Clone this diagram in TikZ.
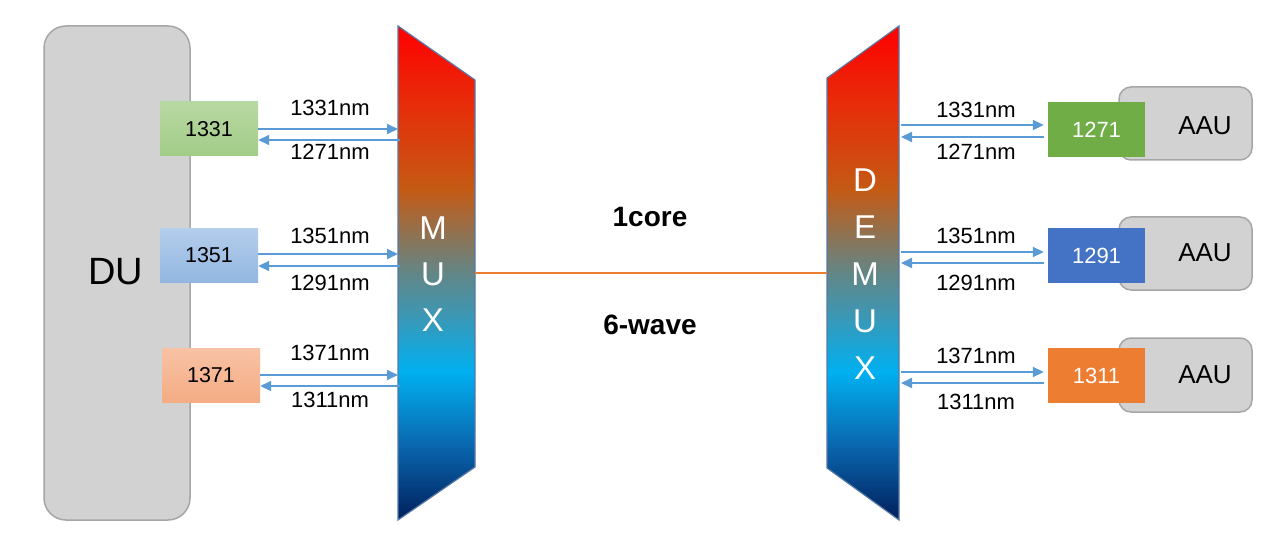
\documentclass[tikz,border=0pt]{standalone}
\usepackage{fontspec}
\setmainfont{Liberation Sans}
\usetikzlibrary{arrows.meta}
\definecolor{gnavy}{HTML}{001F5C}
\definecolor{gblue}{HTML}{0A66AE}
\definecolor{gcyan}{HTML}{00B0F0}
\definecolor{gteal}{HTML}{3A98B6}
\definecolor{ggray}{HTML}{638686}
\definecolor{gbrown}{HTML}{C45A14}
\definecolor{gred1}{HTML}{E5300A}
\definecolor{gred}{HTML}{FF0000}
\pgfdeclareverticalshading{muxshade}{100bp}{color(0bp)=(gnavy); color(25bp)=(gnavy); color(32.5bp)=(gblue); color(40bp)=(gcyan); color(45.5bp)=(gteal); color(50bp)=(ggray); color(58.5bp)=(gbrown); color(66.5bp)=(gred1); color(75bp)=(gred); color(100bp)=(gred)}
\definecolor{arrblue}{HTML}{5B9BD5}
\definecolor{fiber}{HTML}{ED7D31}
\definecolor{dugray}{HTML}{D2D2D2}
\definecolor{duedge}{HTML}{A6A6A6}
\definecolor{trapedge}{HTML}{5878A4}
\tikzset{
  arr/.style={draw=arrblue, line width=1.8pt, -{Triangle[length=11pt,width=10pt]}},
  wl/.style={font=\fontsize{22}{26}\selectfont, inner sep=0pt},
  lbox/.style={minimum width=98pt, minimum height=54pt, inner sep=0pt, font=\fontsize{21.5}{25}\selectfont},
  rbox/.style={minimum width=97pt, minimum height=55pt, inner sep=0pt, font=\fontsize{22}{26}\selectfont, text=white},
  aau/.style={draw=duedge, line width=1.5pt, fill=dugray, rounded corners=12pt, minimum width=133pt, minimum height=73pt, inner sep=0pt},
  trap/.style={draw=trapedge, line width=1.2pt, shading=muxshade},
  vlet/.style={text=white, align=center, font=\fontsize{33}{46}\selectfont, inner sep=0pt},
  bigl/.style={font=\bfseries\fontsize{28}{32}\selectfont, inner sep=0pt},
}
\begin{document}
\begin{tikzpicture}[x=1pt,y=-1pt]
\useasboundingbox (0,0) rectangle (1282,556);
% DU
\node[draw=duedge, line width=1.5pt, fill=dugray, rounded corners=22pt, minimum width=146pt, minimum height=494pt, inner sep=0pt] (du) at (117,273) {};
\node[font=\fontsize{38}{42}\selectfont, inner sep=0pt] (dul) at (116,272) {DU};
% left boxes
\node[lbox, top color={rgb,255:red,184;green,216;blue,162}, bottom color={rgb,255:red,162;green,204;blue,136}] (b1) at (209,129) {1331};
\node[lbox, top color={rgb,255:red,180;green,206;blue,236}, bottom color={rgb,255:red,146;green,182;blue,224}] (b2) at (209,255.5) {1351};
\node[lbox, top color={rgb,255:red,248;green,194;blue,164}, bottom color={rgb,255:red,244;green,172;blue,132}] (b3) at (211,375.5) {1371};
% MUX
\path[trap] (398,26) -- (475,80) -- (475,467) -- (398,520) -- cycle;
\node[vlet] (muxl) at (433,274) {M\\U\\X};
% DEMUX
\path[trap] (899,26) -- (899,520) -- (827,468) -- (827,78) -- cycle;
\node[vlet, font=\fontsize{33}{47}\selectfont] (demuxl) at (865,274) {D\\E\\M\\U\\X};
% fibre
\coordinate (muxR) at (475,273);
\coordinate (demuxL) at (827,273);
\draw[fiber, line width=2pt] (muxR) -- (demuxL);
\node[bigl] (core) at (650,217) {1core};
\node[bigl] (wave) at (650,325) {6-wave};
% MUX edge points
\coordinate (m1a) at (398,129); \coordinate (m1b) at (400,140);
\coordinate (m2a) at (398,254); \coordinate (m2b) at (400,266);
\coordinate (m3a) at (398,375); \coordinate (m3b) at (400,386);
\draw[arr] (b1.east |- m1a) -- (m1a);
\draw[arr] (m1b) -- (b1.east |- m1b);
\draw[arr] (b2.east |- m2a) -- (m2a);
\draw[arr] (m2b) -- (b2.east |- m2b);
\draw[arr] (b3.east |- m3a) -- (m3a);
\draw[arr] (m3b) -- (b3.east |- m3b);
\node[wl] (l1a) at (330,108) {1331nm};
\node[wl] (l1b) at (330,152) {1271nm};
\node[wl] (l2a) at (330,236) {1351nm};
\node[wl] (l2b) at (330,283) {1291nm};
\node[wl] (l3a) at (330,353) {1371nm};
\node[wl] (l3b) at (330,400) {1311nm};
% AAU
\node[aau] (a1) at (1185.5,123.5) {};
\node[aau] (a2) at (1185.5,253.5) {};
\node[aau, minimum height=74pt] (a3) at (1185.5,375) {};
\node[font=\fontsize{26}{30}\selectfont, inner sep=0pt] (a1l) at (1205,126) {AAU};
\node[font=\fontsize{26}{30}\selectfont, inner sep=0pt] (a2l) at (1205,253) {AAU};
\node[font=\fontsize{26}{30}\selectfont, inner sep=0pt] (a3l) at (1205,375) {AAU};
% right boxes
\node[rbox, fill={rgb,255:red,112;green,173;blue,71}] (r1) at (1096.5,129.5) {1271};
\node[rbox, fill={rgb,255:red,68;green,114;blue,196}] (r2) at (1096.5,255.5) {1291};
\node[rbox, fill={rgb,255:red,237;green,125;blue,49}] (r3) at (1096.5,375.5) {1311};
% DEMUX edge points
\coordinate (d1a) at (901,125); \coordinate (d1b) at (901,137);
\coordinate (d2a) at (901,252); \coordinate (d2b) at (901,263);
\coordinate (d3a) at (901,372); \coordinate (d3b) at (901,383);
\draw[arr] (d1a) -- ([xshift=-4pt]r1.west |- d1a);
\draw[arr] ([xshift=-4pt]r1.west |- d1b) -- (d1b);
\draw[arr] (d2a) -- ([xshift=-4pt]r2.west |- d2a);
\draw[arr] ([xshift=-4pt]r2.west |- d2b) -- (d2b);
\draw[arr] (d3a) -- ([xshift=-4pt]r3.west |- d3a);
\draw[arr] ([xshift=-4pt]r3.west |- d3b) -- (d3b);
\node[wl] (s1a) at (976,110) {1331nm};
\node[wl] (s1b) at (976,152) {1271nm};
\node[wl] (s2a) at (976,236) {1351nm};
\node[wl] (s2b) at (976,283) {1291nm};
\node[wl] (s3a) at (976,356) {1371nm};
\node[wl] (s3b) at (976,402) {1311nm};
\end{tikzpicture}
\end{document}
